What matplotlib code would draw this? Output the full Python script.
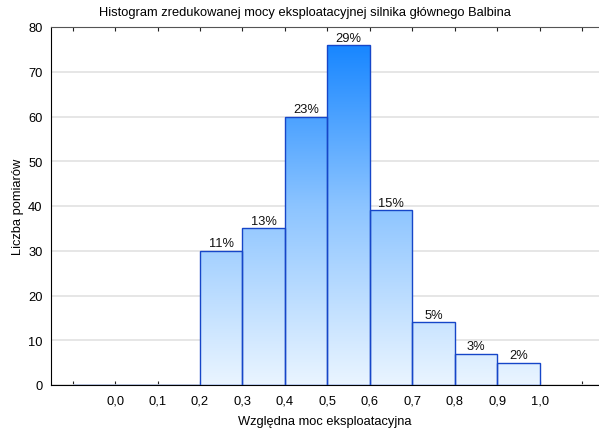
import numpy as np
import matplotlib
matplotlib.use("Agg")
import matplotlib.pyplot as plt
from matplotlib.colors import LinearSegmentedColormap
from matplotlib.patches import Rectangle

plt.rcParams['font.family'] = ['Liberation Sans', 'DejaVu Sans']

bin_left = [-0.1, 0.0, 0.1, 0.2, 0.3, 0.4, 0.5, 0.6, 0.7, 0.8, 0.9]
counts = [0, 0, 0, 30, 35, 60, 76, 39, 14, 7, 5]
pct_labels = ['', '', '', '11%', '13%', '23%', '29%', '15%', '5%', '3%', '2%']
tick_vals = [-0.1, 0.0, 0.1, 0.2, 0.3, 0.4, 0.5, 0.6, 0.7, 0.8, 0.9, 1.0, 1.1]
tick_labels = ['', '0,0', '0,1', '0,2', '0,3', '0,4', '0,5', '0,6', '0,7', '0,8', '0,9', '1,0', '']
yticks = [0, 10, 20, 30, 40, 50, 60, 70, 80]
bin_width = 0.1

title = "Histogram zredukowanej mocy eksploatacyjnej silnika głównego Balbina"
xlabel = "Względna moc eksploatacyjna"
ylabel = "Liczba pomiarów"

FS = 9.3

fig = plt.figure(figsize=(5.99, 4.35), dpi=100)
ax = fig.add_axes([51/599, 49/435, 548/599, 358/435])
ax.set_xlim(-0.151, 1.14)
ax.set_ylim(0, 80)

cmap = LinearSegmentedColormap.from_list('g', ['#eaf5ff', '#8cc4ff', '#0a7fff'])
grad = np.linspace(0, 1, 256).reshape(-1, 1)

for x0, c, lab in zip(bin_left, counts, pct_labels):
    rect = Rectangle((x0, 0), bin_width, c, facecolor='none',
                     edgecolor='#1646c8', linewidth=1.0, zorder=3)
    ax.add_patch(rect)
    if c > 0:
        im = ax.imshow(grad, cmap=cmap, origin='lower', aspect='auto',
                       extent=(x0, x0 + bin_width, 0, 80), zorder=2,
                       interpolation='bilinear')
        im.set_clip_path(rect)
    if lab:
        ax.text(x0 + bin_width / 2, c + 0.3, lab, ha='center', va='bottom',
                fontsize=FS, color='#111111', zorder=4)

ax.set_xlim(-0.151, 1.14)
ax.set_ylim(0, 80)

ax.set_xticks(tick_vals)
ax.set_xticklabels(tick_labels, fontsize=FS)
ax.set_yticks(yticks)
ax.set_yticklabels([str(v) for v in yticks], fontsize=FS)
ax.tick_params(axis='x', direction='in', length=3, top=True, bottom=True,
               pad=7, color='#222222')
ax.tick_params(axis='y', length=0, pad=6)
ax.yaxis.grid(True, color='#e2e2e2', linewidth=1.2, zorder=0)
ax.set_axisbelow(True)

ax.spines['right'].set_visible(False)
ax.spines['top'].set_color('#555555')
ax.spines['left'].set_color('#000000')
ax.spines['bottom'].set_color('#000000')

ax.set_xlabel(xlabel, fontsize=FS, labelpad=6)
ax.set_ylabel(ylabel, fontsize=FS, labelpad=3)
fig.text(305/599, 1 - 13/435, title, ha='center', va='center', fontsize=FS)

fig.savefig('out.png', dpi=100)
